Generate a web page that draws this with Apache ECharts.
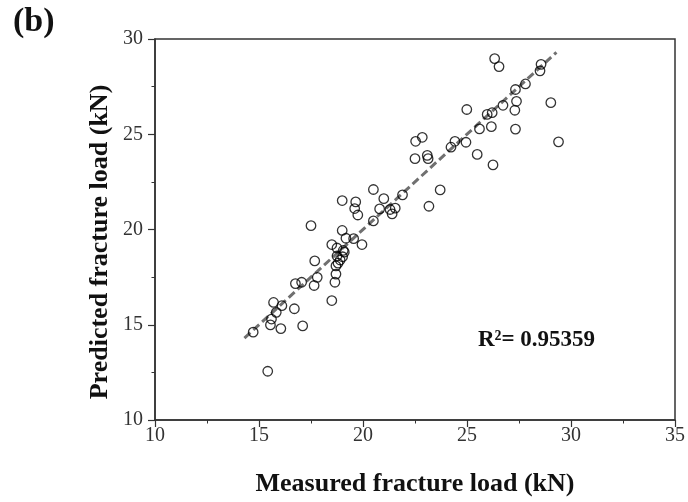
<!DOCTYPE html>
<html>
<head>
<meta charset="utf-8">
<script src="https://cdn.jsdelivr.net/npm/echarts@6/dist/echarts.min.js"></script>
<style>
  html, body { margin: 0; padding: 0; background: #fff; }
  #main { width: 688px; height: 502px; }
</style>
</head>
<body>
<div id="main"></div>
<script>
// measured vs predicted fracture load (kN)
var measured = [26.33, 26.54, 28.56, 28.51, 27.81, 27.33, 27.38, 27.30, 29.03, 26.73,
    26.21, 25.97, 24.99, 26.17, 25.60, 27.33, 22.85, 22.53, 24.42, 24.95,
    24.23, 29.40, 22.50, 23.09, 23.13, 25.49, 26.25, 23.71, 23.17, 21.90,
    20.50, 21.00, 20.80, 21.30, 21.55, 21.40, 20.50, 19.00, 19.65, 19.60,
    19.75, 17.50, 19.00, 19.18, 19.55, 19.95, 18.50, 18.75, 19.10, 19.02,
    18.75, 18.80, 18.70, 18.70, 18.65, 17.68, 17.80, 17.65, 16.75, 17.05,
    18.50, 15.70, 16.10, 15.83, 15.60, 15.55, 16.05, 16.70, 17.10, 14.72,
    15.42, 19.05, 18.90];
var predicted = [28.97, 28.55, 28.67, 28.33, 27.64, 27.35, 26.73, 26.26, 26.66, 26.52,
    26.13, 26.04, 26.30, 25.40, 25.28, 25.27, 24.84, 24.63, 24.63, 24.58,
    24.32, 24.60, 23.72, 23.89, 23.72, 23.94, 23.39, 22.08, 21.22, 21.82,
    22.10, 21.62, 21.08, 21.05, 21.12, 20.82, 20.45, 21.52, 21.45, 21.10,
    20.76, 20.20, 19.95, 19.54, 19.52, 19.21, 19.21, 19.03, 18.81, 18.57,
    18.61, 18.23, 18.09, 17.66, 17.23, 18.35, 17.49, 17.06, 17.16, 17.23,
    16.27, 16.17, 16.00, 15.65, 15.30, 14.99, 14.80, 15.84, 14.94, 14.61,
    12.56, 18.90, 18.40];
// fitted line ends
var fitX = [14.3, 29.3];
var fitY = [14.3, 29.3];
var r2Text = 'R²= 0.95359';

var points = measured.map(function (m, i) { return [m, predicted[i]]; });
var fitLine = fitX.map(function (x, i) { return [x, fitY[i]]; });

var serif = '"Liberation Serif", "Times New Roman", serif';
var myChart = echarts.init(document.getElementById('main'));

var option = {
    animation: false,
    backgroundColor: '#fff',
    grid: {
        left: 155, right: 13, top: 39, bottom: 76,
        show: true, borderColor: '#333', borderWidth: 1.5
    },
    xAxis: {
        type: 'value', min: 10, max: 35, interval: 5,
        name: 'Measured fracture load (kN)',
        nameLocation: 'middle', nameGap: 51,
        nameTextStyle: { fontFamily: serif, fontWeight: 'bold', fontSize: 26, color: '#111' },
        axisLine: { onZero: false, lineStyle: { color: '#333', width: 1.5 } },
        axisTick: { length: 7, lineStyle: { color: '#333', width: 1.2 } },
        minorTick: { show: true, splitNumber: 2, length: 3.5, lineStyle: { color: '#333' } },
        axisLabel: { margin: 6, fontFamily: serif, fontSize: 20, color: '#333' },
        splitLine: { show: false }
    },
    yAxis: {
        type: 'value', min: 10, max: 30, interval: 5,
        axisLine: { show: true, onZero: false, lineStyle: { color: '#333', width: 1.5 } },
        axisTick: { show: true, length: 7, lineStyle: { color: '#333', width: 1.2 } },
        minorTick: { show: true, splitNumber: 2, length: 3.5, lineStyle: { color: '#333' } },
        axisLabel: { margin: 12, fontFamily: serif, fontSize: 20, color: '#333' },
        splitLine: { show: false }
    },
    graphic: [
        {
            type: 'text', left: 13, top: 5,
            style: { text: '(b)', font: 'bold 34px ' + serif, fill: '#111' }
        },
        {
            // y axis title, rotated
            type: 'text', x: 100, y: 242, rotation: Math.PI / 2,
            style: {
                text: 'Predicted fracture load (kN)', font: 'bold 26px ' + serif,
                fill: '#111', textAlign: 'center', textVerticalAlign: 'middle'
            }
        },
        {
            type: 'text', x: 478, y: 340,
            style: {
                text: r2Text, font: 'bold 23px ' + serif, fill: '#111',
                textAlign: 'left', textVerticalAlign: 'middle'
            }
        }
    ],
    series: [
        {
            type: 'line',
            data: fitLine,
            symbol: 'none',
            lineStyle: { color: '#707070', width: 3, type: [8, 4] },
            z: 1
        },
        {
            type: 'scatter',
            data: points,
            symbol: 'circle',
            symbolSize: 9.5,
            itemStyle: { color: 'rgba(255,255,255,0)', borderColor: '#000', borderWidth: 1.3 },
            z: 2
        }
    ]
};
myChart.setOption(option);
</script>
</body>
</html>
